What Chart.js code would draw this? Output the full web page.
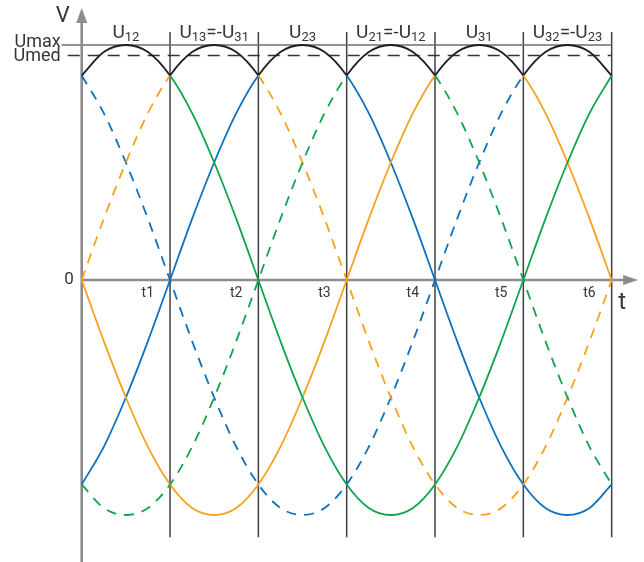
<!DOCTYPE html>
<html>
<head>
<meta charset="utf-8">
<script src="https://cdn.jsdelivr.net/npm/chart.js@4.4.1/dist/chart.umd.min.js"></script>
<style>
    body { margin: 0; background: #fff; }
    #wrap { width: 644px; height: 562px; position: relative; }
</style>
</head>
<body>
<div id="wrap"><canvas id="waves"></canvas></div>
<script>
// time in sixths of a period (t1 = 1 ... t6 = 6), one sample every 15 degrees
const steps = [0, 0.25, 0.5, 0.75, 1, 1.25, 1.5, 1.75, 2, 2.25, 2.5, 2.75, 3,
    3.25, 3.5, 3.75, 4, 4.25, 4.5, 4.75, 5, 5.25, 5.5, 5.75, 6];

const tTicks = [1, 2, 3, 4, 5, 6];
const tLabels = ['t1', 't2', 't3', 't4', 't5', 't6'];
const headers = ['U12', 'U13=-U31', 'U23', 'U21=-U12', 'U31', 'U32=-U23'];

// line voltages, as a fraction of Umax
const u12 = [0.87, 0.97, 1, 0.97, 0.87, 0.71, 0.5, 0.26, 0, -0.26, -0.5, -0.71, -0.87,
    -0.97, -1, -0.97, -0.87, -0.71, -0.5, -0.26, 0, 0.26, 0.5, 0.71, 0.87];
const u21 = [-0.87, -0.97, -1, -0.97, -0.87, -0.71, -0.5, -0.26, 0, 0.26, 0.5, 0.71, 0.87,
    0.97, 1, 0.97, 0.87, 0.71, 0.5, 0.26, 0, -0.26, -0.5, -0.71, -0.87];
const u13 = [0, 0.26, 0.5, 0.71, 0.87, 0.97, 1, 0.97, 0.87, 0.71, 0.5, 0.26, 0,
    -0.26, -0.5, -0.71, -0.87, -0.97, -1, -0.97, -0.87, -0.71, -0.5, -0.26, 0];
const u31 = [0, -0.26, -0.5, -0.71, -0.87, -0.97, -1, -0.97, -0.87, -0.71, -0.5, -0.26, 0,
    0.26, 0.5, 0.71, 0.87, 0.97, 1, 0.97, 0.87, 0.71, 0.5, 0.26, 0];
const u23 = [-0.87, -0.71, -0.5, -0.26, 0, 0.26, 0.5, 0.71, 0.87, 0.97, 1, 0.97, 0.87,
    0.71, 0.5, 0.26, 0, -0.26, -0.5, -0.71, -0.87, -0.97, -1, -0.97, -0.87];
const u32 = [0.87, 0.71, 0.5, 0.26, 0, -0.26, -0.5, -0.71, -0.87, -0.97, -1, -0.97, -0.87,
    -0.71, -0.5, -0.26, 0, 0.26, 0.5, 0.71, 0.87, 0.97, 1, 0.97, 0.87];

const uMax = 1;
const uMed = 0.955;

const BLUE = '#0c72c0';
const ORANGE = '#f8a11c';
const GREEN = '#0ea44c';
const INK = '#1e1e1e';
const AXIS = '#8c8c8c';
const TEXT = '#363636';
const FONT = 'Roboto, "Liberation Sans", sans-serif';

// which interval (0..5) each voltage is the top of the rectified envelope
const series = [
    { label: 'U12', values: u12, color: GREEN, dashed: false, top: 0 },
    { label: 'U21', values: u21, color: GREEN, dashed: true, top: 3 },
    { label: 'U13', values: u13, color: ORANGE, dashed: true, top: 1 },
    { label: 'U31', values: u31, color: ORANGE, dashed: false, top: 4 },
    { label: 'U23', values: u23, color: BLUE, dashed: false, top: 2 },
    { label: 'U32', values: u32, color: BLUE, dashed: true, top: 5 }
];

const onTop = (c, top) => c.p0.parsed.x >= top - 0.001 && c.p1.parsed.x <= top + 1.001;

const datasets = series.map(s => ({
    label: s.label,
    data: steps.map((t, i) => ({ x: t, y: s.values[i] })),
    borderColor: s.color,
    borderWidth: 1.8,
    borderDash: s.dashed ? [10, 8] : [],
    pointRadius: 0,
    cubicInterpolationMode: 'monotone',
    segment: {
        borderColor: c => onTop(c, s.top) ? INK : undefined,
        borderDash: c => onTop(c, s.top) ? [] : undefined
    }
}));

// draws text where digits become subscripts (U13 -> U with 13 lowered)
const drawSub = (ctx, text, cx, base) => {
    const parts = text.match(/\d+|\D+/g);
    const big = '19px ' + FONT;
    const small = '13px ' + FONT;
    let width = 0;
    parts.forEach(p => {
        ctx.font = /\d/.test(p) ? small : big;
        width += ctx.measureText(p).width;
    });
    let px = cx - width / 2;
    ctx.textAlign = 'left';
    ctx.textBaseline = 'alphabetic';
    parts.forEach(p => {
        const sub = /\d/.test(p);
        ctx.font = sub ? small : big;
        ctx.fillText(p, px, sub ? base + 3 : base);
        px += ctx.measureText(p).width;
    });
};

const decor = {
    id: 'decor',
    beforeDatasetsDraw(chart) {
        const { ctx, scales: { x, y } } = chart;
        const x0 = x.getPixelForValue(0);
        const y0 = y.getPixelForValue(0);
        const yMax = y.getPixelForValue(uMax);
        const yMed = y.getPixelForValue(uMed);
        const xEnd = x.getPixelForValue(6);
        ctx.save();

        // vertical lines at t1..t6
        ctx.strokeStyle = '#404040';
        ctx.lineWidth = 1.5;
        const vTop = y.getPixelForValue(1.055);
        const vBottom = y.getPixelForValue(-1.095);
        tTicks.forEach(t => {
            const px = x.getPixelForValue(t);
            ctx.beginPath();
            ctx.moveTo(px, vTop);
            ctx.lineTo(px, vBottom);
            ctx.stroke();
        });

        // Umax and Umed levels
        ctx.strokeStyle = '#6e6e6e';
        ctx.lineWidth = 1.6;
        ctx.beginPath();
        ctx.moveTo(x0 - 20, yMax);
        ctx.lineTo(xEnd, yMax);
        ctx.stroke();
        ctx.strokeStyle = '#333';
        ctx.lineWidth = 1.5;
        ctx.setLineDash([12, 8]);
        ctx.beginPath();
        ctx.moveTo(x0 - 14, yMed);
        ctx.lineTo(xEnd, yMed);
        ctx.stroke();
        ctx.setLineDash([]);

        // axes with arrows
        ctx.strokeStyle = AXIS;
        ctx.fillStyle = AXIS;
        ctx.lineWidth = 2.6;
        const yTip = y.getPixelForValue(1.157);
        const xTip = x.getPixelForValue(6.3);
        ctx.beginPath();
        ctx.moveTo(x0, chart.height);
        ctx.lineTo(x0, yTip + 10);
        ctx.moveTo(x0, y0);
        ctx.lineTo(xTip - 10, y0);
        ctx.stroke();
        ctx.beginPath();
        ctx.moveTo(x0, yTip);
        ctx.lineTo(x0 - 5.5, yTip + 15);
        ctx.lineTo(x0 + 5.5, yTip + 15);
        ctx.closePath();
        ctx.fill();
        ctx.beginPath();
        ctx.moveTo(xTip, y0);
        ctx.lineTo(xTip - 15, y0 - 5);
        ctx.lineTo(xTip - 15, y0 + 5);
        ctx.closePath();
        ctx.fill();

        // texts
        ctx.fillStyle = TEXT;
        ctx.textBaseline = 'middle';
        ctx.textAlign = 'right';
        ctx.font = '18px ' + FONT;
        ctx.fillText('Umax', x0 - 21, yMax - 3);
        ctx.fillText('Umed', x0 - 21, yMed + 1);
        ctx.font = '17px ' + FONT;
        ctx.fillText('0', x0 - 8, y0);

        ctx.font = '14px ' + FONT;
        ctx.textBaseline = 'alphabetic';
        tTicks.forEach((t, i) => {
            ctx.fillText(tLabels[i], x.getPixelForValue(t) - 16, y0 + 17);
        });

        ctx.textAlign = 'center';
        ctx.font = '22px ' + FONT;
        ctx.fillText('V', x0 - 19, yTip + 14);
        ctx.font = '24px ' + FONT;
        ctx.fillText('t', xTip - 16, y0 + 29);

        headers.forEach((h, i) => {
            drawSub(ctx, h, x.getPixelForValue(i + 0.5), yMax - 7);
        });
        ctx.restore();
    }
};

new Chart(document.querySelector('#waves'), {
    type: 'line',
    data: { datasets: datasets },
    options: {
        responsive: true,
        maintainAspectRatio: false,
        animation: false,
        layout: { padding: 0 },
        scales: {
            x: { type: 'linear', min: -0.925, max: 6.366, display: false },
            y: { min: -1.2, max: 1.1915, display: false }
        },
        plugins: {
            legend: { display: false },
            tooltip: { enabled: false }
        }
    },
    plugins: [decor]
});
</script>
</body>
</html>
